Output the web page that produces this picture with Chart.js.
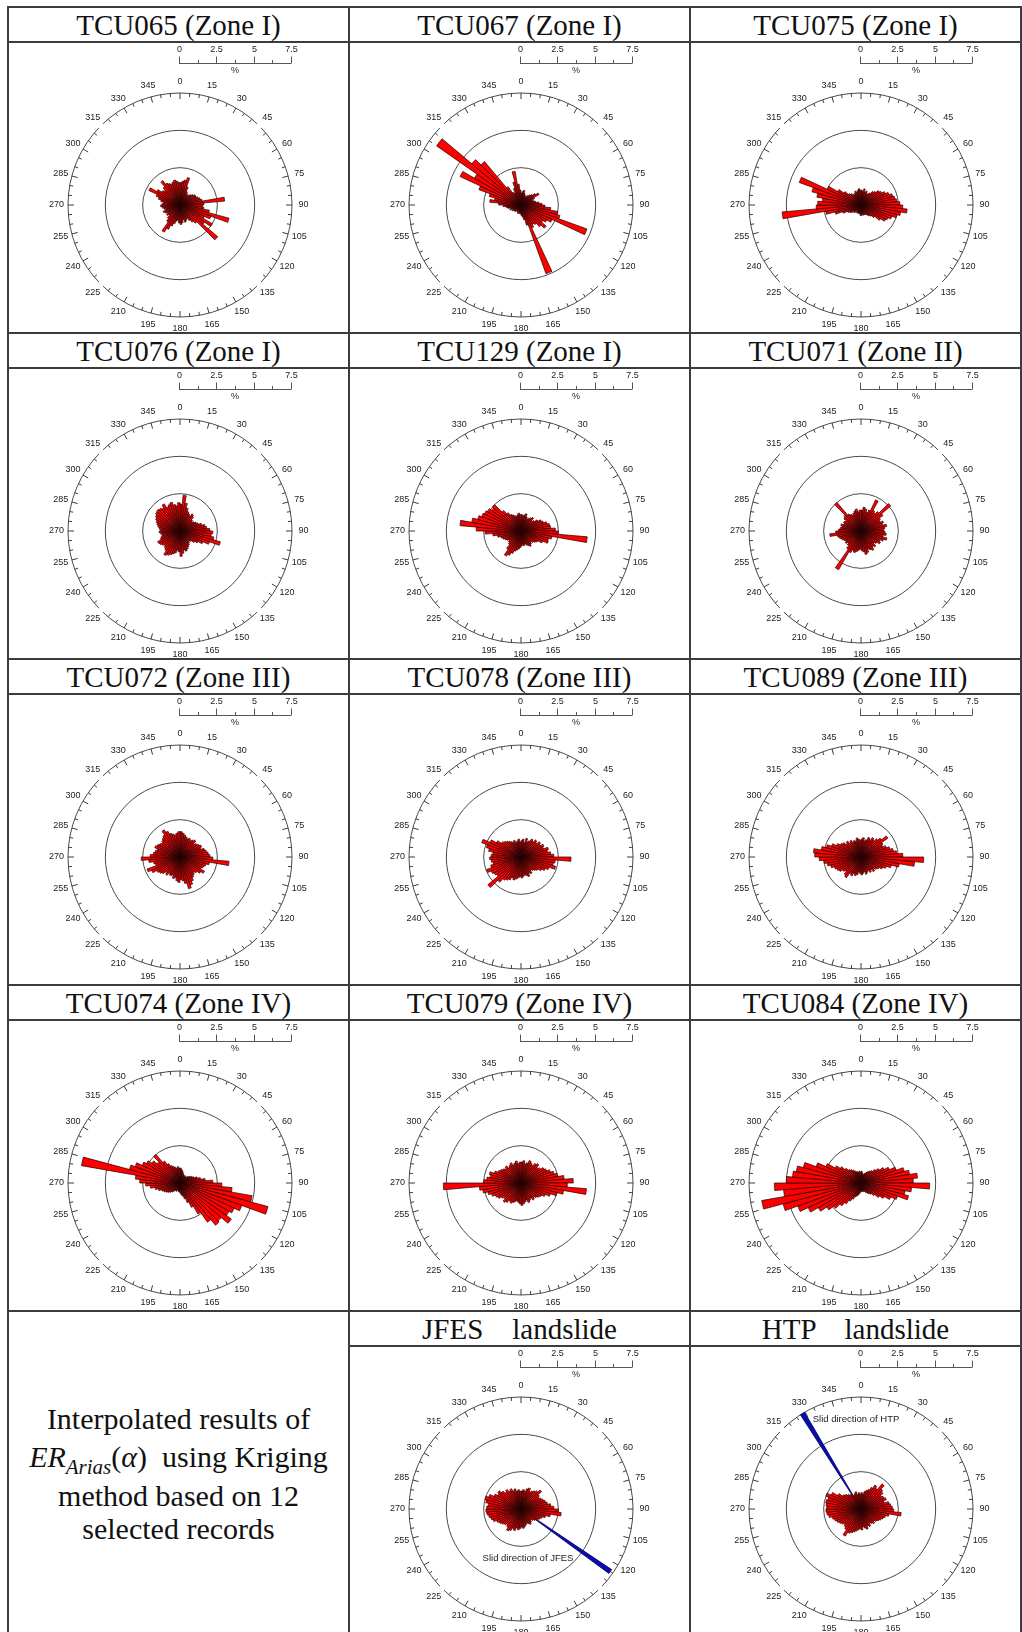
<!DOCTYPE html>
<html><head><meta charset="utf-8">
<script src="https://cdn.jsdelivr.net/npm/chart.js@4.4.0/dist/chart.umd.min.js"></script>
<style>
html,body{margin:0;padding:0;background:#fff;overflow:hidden;}
#page{position:relative;width:1022px;height:1632px;overflow:hidden;background:#fff;}
.ln{position:absolute;background:#3c3c3c;}
.title{position:absolute;font-family:"Liberation Serif","Times New Roman",serif;font-size:29px;color:#111;text-align:center;white-space:pre;line-height:35px;height:35px;}
.txt{position:absolute;left:8px;width:341px;text-align:center;font-family:"Liberation Serif","Times New Roman",serif;font-size:30px;color:#111;white-space:pre;line-height:34px;}
canvas{position:absolute;}
</style></head><body><div id="page"></div>
<script>
// ---------- data ----------
const binLabels = Array.from({length: 72}, (_, i) => String(i * 5));
const compassLabels = [0,15,30,45,60,75,90,105,120,135,150,165,180,195,210,225,240,255,270,285,300,315,330,345];
const barTicks = [0,1.25,2.5,3.75,5,6.25,7.5];
const barLabels = ['0','2.5','5','7.5'];
const rMax = 7.5;

const titles = ['TCU065 (Zone I)','TCU067 (Zone I)','TCU075 (Zone I)',
  'TCU076 (Zone I)','TCU129 (Zone I)','TCU071 (Zone II)',
  'TCU072 (Zone III)','TCU078 (Zone III)','TCU089 (Zone III)',
  'TCU074 (Zone IV)','TCU079 (Zone IV)','TCU084 (Zone IV)',
  '','JFES    landslide','HTP    landslide'];

const tcu065 = [1.5,1.6,1.7,1.9,1.3,1.0,0.9,0.8,0.9,1.0,1.1,1.2,
  1.2,1.3,1.4,1.5,3.0,1.6,1.5,1.6,2.0,3.4,2.2,1.8,
  2.5,2.0,3.3,1.6,1.4,1.2,1.0,1.1,1.2,1.0,1.2,1.3,
  1.2,1.0,1.1,1.3,1.5,1.8,2.1,1.4,1.2,1.0,1.1,1.0,
  1.1,1.2,1.0,1.1,1.2,1.3,1.2,1.1,1.3,1.5,1.7,2.3,
  1.8,1.5,1.4,1.6,2.0,1.7,1.6,1.5,1.6,1.7,1.6,1.5];
const tcu067 = [0.8,0.9,1.0,0.8,0.7,0.6,0.7,0.8,0.9,1.0,1.2,1.4,
  1.0,0.8,0.9,1.0,1.2,1.4,1.6,2.0,2.5,2.7,4.7,2.3,
  2.0,1.8,2.2,1.9,1.6,1.5,1.7,4.9,1.4,1.0,0.8,0.7,
  0.6,0.5,0.6,0.5,0.6,0.5,0.4,0.5,0.6,0.5,0.6,0.7,
  0.6,0.8,0.7,0.9,1.0,1.2,1.5,2.1,1.8,2.2,3.0,4.5,
  3.6,6.9,4.3,3.8,1.5,1.0,0.9,1.2,1.6,2.3,1.4,1.0];
const tcu075 = [1.0,0.9,1.1,0.9,1.0,0.8,0.9,1.0,1.2,1.3,1.5,1.6,
  1.8,2.0,2.2,2.3,2.4,2.6,2.8,3.1,2.7,2.5,2.2,2.0,
  1.9,1.6,1.2,1.0,0.9,0.8,0.7,0.7,0.6,0.7,0.6,0.7,
  0.7,0.6,0.5,0.6,0.5,0.6,0.5,0.6,0.7,0.6,0.8,0.9,
  1.0,1.3,1.8,2.4,5.3,3.0,2.9,2.6,3.0,3.4,4.4,2.5,
  1.8,1.4,1.1,1.0,0.9,0.8,0.9,1.0,0.9,1.0,1.1,1.0];
const tcu076 = [1.8,2.4,1.9,1.6,1.4,1.3,1.2,1.4,1.3,1.1,1.0,1.1,
  1.2,1.3,1.5,1.7,1.8,2.0,2.2,2.1,2.3,2.8,2.1,1.7,
  1.4,1.2,1.0,0.9,1.0,1.1,1.2,1.3,1.4,1.3,1.5,1.7,
  1.4,1.3,1.5,1.6,1.7,1.8,1.9,1.6,1.5,1.4,1.5,1.6,
  1.65,1.4,1.3,1.2,1.3,1.4,1.3,1.4,1.5,1.6,1.7,1.8,
  1.9,2.0,2.05,2.0,1.9,2.1,1.8,1.9,2.0,1.8,1.7,1.9];
const tcu129 = [1.1,1.0,1.1,1.2,1.0,0.9,1.0,1.1,1.2,1.0,1.1,1.3,
  1.5,1.6,1.8,1.95,2.0,2.3,2.5,4.45,2.1,1.9,1.95,1.6,
  1.3,1.2,1.1,1.0,1.1,1.2,1.1,1.0,0.9,1.0,0.9,1.0,
  1.1,1.2,1.3,1.4,1.6,1.8,1.95,1.5,1.2,1.1,1.0,1.1,
  1.2,1.3,1.4,1.6,1.9,2.4,3.0,4.1,3.35,3.0,2.8,2.7,
  2.6,2.4,2.5,1.8,1.5,1.3,1.2,1.1,1.0,1.1,1.2,1.1];
const tcu071 = [1.4,1.6,1.5,1.3,1.5,2.3,1.6,1.5,1.7,2.6,1.8,1.5,
  1.4,1.6,1.5,1.75,1.6,1.5,1.6,1.7,1.5,1.8,1.6,1.4,
  1.5,1.3,1.2,1.4,1.3,1.5,1.4,1.3,1.5,1.6,1.4,1.3,
  1.2,1.3,1.4,1.5,1.4,1.6,3.0,1.5,1.3,1.2,1.3,1.2,
  1.3,1.4,1.5,1.6,2.1,1.7,1.5,1.4,1.3,1.4,1.2,1.3,
  1.2,1.4,1.5,2.5,1.4,1.3,1.2,1.3,1.4,1.5,1.3,1.4];
const tcu072 = [1.7,1.6,1.5,1.4,1.3,1.4,1.3,1.4,1.5,1.3,1.4,1.5,
  1.6,1.5,1.7,1.8,1.9,2.0,2.2,3.3,2.0,1.8,1.7,1.6,
  1.9,1.7,1.5,1.4,1.5,1.6,1.8,2.0,2.2,1.8,1.6,1.5,
  1.7,1.6,1.4,1.5,1.3,1.4,1.3,1.5,1.4,1.6,1.7,1.8,
  2.1,2.35,1.7,1.8,2.1,2.6,2.0,1.8,1.7,1.6,1.8,1.7,
  1.6,1.5,1.6,1.7,1.8,2.1,1.9,1.7,1.6,1.5,1.6,1.7];
const tcu078 = [1.1,1.2,1.0,1.3,1.1,1.2,1.4,1.3,1.5,1.4,1.6,1.5,
  1.7,1.6,1.9,1.8,2.0,2.2,3.35,2.3,2.2,2.4,2.0,1.8,
  1.6,1.4,1.3,1.2,1.1,1.3,1.2,1.4,1.3,1.2,1.3,1.4,
  1.3,1.4,1.5,1.6,1.5,1.7,1.8,1.9,2.2,2.9,2.0,2.1,
  2.2,2.45,2.1,1.9,2.0,2.1,2.0,1.9,2.2,2.4,2.8,2.3,
  1.9,1.6,1.5,1.4,1.3,1.2,1.1,1.2,1.0,1.1,1.2,1.0];
const tcu089 = [1.2,1.3,1.1,1.2,1.4,1.3,1.5,1.4,1.6,1.8,2.2,1.7,
  1.6,1.8,2.0,2.2,2.4,2.8,4.2,3.6,2.6,2.1,1.8,1.6,
  1.4,1.3,1.2,1.3,1.1,1.2,1.0,1.1,1.2,1.0,1.1,1.2,
  1.1,1.0,1.2,1.3,1.2,1.4,1.3,1.7,1.6,1.4,1.5,1.7,
  1.8,1.9,2.1,2.3,2.5,2.8,3.1,3.2,2.7,2.4,2.1,1.8,
  1.6,1.5,1.3,1.4,1.2,1.3,1.1,1.2,1.1,1.3,1.2,1.1];
const tcu074 = [1.0,0.9,0.8,0.7,0.6,0.6,0.5,0.6,0.5,0.6,0.7,0.8,
  0.9,1.0,1.2,1.4,1.7,2.2,2.8,3.5,4.9,6.1,4.4,4.0,
  3.8,4.2,3.6,3.7,3.2,2.4,1.8,1.4,1.1,0.9,0.8,0.7,
  0.6,0.6,0.5,0.5,0.6,0.5,0.6,0.7,0.8,0.9,1.0,1.1,
  1.2,1.3,1.5,1.7,2.0,2.3,2.7,3.0,6.7,3.5,3.2,2.8,
  2.6,2.3,2.0,2.5,1.8,1.5,1.3,1.2,1.1,1.0,1.1,1.0];
const tcu079 = [1.4,1.5,1.3,1.4,1.6,1.5,1.4,1.6,1.7,1.5,1.6,1.8,
  1.9,2.1,2.3,2.5,2.9,3.5,3.1,4.4,2.9,2.5,2.1,1.8,
  1.6,1.5,1.4,1.3,1.4,1.2,1.3,1.4,1.2,1.3,1.4,1.5,
  1.4,1.3,1.2,1.3,1.4,1.5,1.4,1.6,1.7,1.5,1.6,1.8,
  1.9,2.1,2.3,2.6,2.8,5.2,2.5,2.3,2.1,2.2,1.9,1.7,
  1.6,1.5,1.4,1.5,1.3,1.4,1.5,1.3,1.4,1.5,1.3,1.4];
const tcu084 = [0.8,0.7,0.6,0.6,0.7,0.8,0.9,1.0,1.1,1.3,1.5,1.8,
  2.1,2.5,3.0,3.3,3.8,3.5,4.6,3.4,3.0,3.3,2.6,2.2,
  1.8,1.5,1.2,1.0,0.9,0.8,0.7,0.6,0.6,0.5,0.6,0.5,
  0.6,0.7,0.8,0.9,1.0,1.2,1.4,1.7,2.0,2.4,2.8,3.3,
  3.9,4.5,5.4,6.75,5.2,5.8,5.0,4.6,4.4,4.0,3.2,2.6,
  2.0,1.7,1.4,1.2,1.1,1.0,0.9,0.8,0.8,0.7,0.8,0.7];
const jfes = [1.2,1.3,1.2,1.4,1.5,1.3,1.4,1.5,1.6,1.8,1.5,1.4,
  1.5,1.6,1.7,1.8,2.0,2.2,2.5,2.7,2.0,1.7,1.5,1.4,
  1.3,1.2,1.1,1.0,1.1,1.2,1.1,1.0,1.1,1.2,1.3,1.2,
  1.3,1.4,1.3,1.5,1.4,1.6,1.7,1.5,1.4,1.5,1.6,1.7,
  1.8,2.0,2.1,2.2,2.3,2.35,2.3,2.2,2.4,2.5,2.3,2.0,
  1.8,1.9,1.7,1.5,1.6,1.4,1.5,1.3,1.4,1.2,1.3,1.2];
const htp = [1.1,1.0,1.2,1.3,1.4,1.6,1.85,1.7,2.2,1.9,1.8,1.6,
  1.7,1.8,1.6,1.9,2.0,2.1,2.2,2.7,1.9,1.7,1.6,1.5,
  1.4,1.3,1.2,1.3,1.2,1.1,1.3,1.2,1.4,1.3,1.2,1.4,
  1.3,1.4,1.5,1.6,1.7,1.8,2.1,1.7,1.6,1.5,1.6,1.7,
  1.8,1.9,2.0,2.2,2.3,2.35,2.3,2.35,2.4,2.3,2.5,2.2,
  1.8,1.5,1.4,1.3,1.2,1.1,1.0,1.1,1.2,1.0,1.1,1.0];

// slide directions (degrees, clockwise from north) and lengths (%)
const slideJFES = {dir: 125, len: 7.3, note: 'Slid direction of JFES', dx: 7, dy: 49};
const slideHTP = {dir: 328.5, len: 7.5, note: 'Slid direction of HTP', dx: -5, dy: -90};
const slideWidth = 2.5;

const cells = [tcu065, tcu067, tcu075, tcu076, tcu129, tcu071, tcu072, tcu078, tcu089, tcu074, tcu079, tcu084, null, jfes, htp];
const slides = {13: slideJFES, 14: slideHTP};

// ---------- layout ----------
const colLeft = [8, 349, 690], colRight = [349, 690, 1021];
const rowTop = [7, 333, 659, 985, 1311];
const titleH = 35;
const centerX = [180, 521, 861];
const centerDY = 198;
const ringGaps = [45, 135, 225, 315];

const page = document.getElementById('page');
function line(x, y, w, h) {
  const d = document.createElement('div'); d.className = 'ln';
  d.style.left = x + 'px'; d.style.top = y + 'px'; d.style.width = w + 'px'; d.style.height = h + 'px';
  page.appendChild(d);
}
rowTop.forEach((t, k) => {
  line(8, t - 1, 1014, 2);
  if (k < 4) line(8, t + titleH - 1, 1014, 2);
  else line(349, t + titleH - 1, 673, 2);
});
[8, 349, 690, 1021].forEach(x => line(x - 1, 6, 2, 1626));

titles.forEach((t, i) => {
  if (!t) return;
  const r = Math.floor(i / 3), c = i % 3;
  const d = document.createElement('div'); d.className = 'title';
  d.style.left = colLeft[c] + 'px'; d.style.width = (colRight[c] - colLeft[c]) + 'px';
  d.style.top = (rowTop[r] + 1) + 'px';
  d.textContent = t; page.appendChild(d);
});

const blockLines = [
  {top: 1402, html: 'Interpolated results of'},
  {top: 1440, html: '<i>ER</i><sub style="font-size:21px;vertical-align:-7px"><i>Arias</i></sub>(<i>α</i>)  using Kriging'},
  {top: 1479, html: 'method based on 12'},
  {top: 1512, html: 'selected records'}];
blockLines.forEach(l => {
  const d = document.createElement('div'); d.className = 'txt';
  d.style.top = l.top + 'px'; d.innerHTML = l.html; page.appendChild(d);
});

// ---------- decoration plugin ----------
const roseDecor = {
  id: 'roseDecor',
  afterDraw(chart, args, opts) {
    const s = chart.scales.r, ctx = chart.ctx;
    const cx = s.xCenter, cy = s.yCenter;
    const R = s.getDistanceFromCenterForValue(rMax);
    const rad = d => (d - 90) * Math.PI / 180;
    ctx.save();
    ctx.strokeStyle = '#ffffff'; ctx.lineWidth = 3;
    ringGaps.forEach(a => { ctx.beginPath(); ctx.arc(cx, cy, R, rad(a - 1.5), rad(a + 1.5)); ctx.stroke(); });
    ctx.strokeStyle = '#3a3a3a'; ctx.lineWidth = 1;
    for (let a = 0; a < 360; a += 5) {
      if (ringGaps.includes(a)) continue;
      const len = a % 15 === 0 ? 6 : 3.5, t = rad(a);
      ctx.beginPath();
      ctx.moveTo(cx + Math.cos(t) * R, cy + Math.sin(t) * R);
      ctx.lineTo(cx + Math.cos(t) * (R - len), cy + Math.sin(t) * (R - len));
      ctx.stroke();
    }
    ctx.fillStyle = '#222';
    ctx.font = '9px "Liberation Sans", Arial, sans-serif';
    ctx.textAlign = 'center'; ctx.textBaseline = 'middle';
    compassLabels.forEach(a => {
      const t = rad(a);
      ctx.fillText(String(a), cx + Math.cos(t) * (R + 11.5), cy + Math.sin(t) * (R + 11.5));
    });
    const y0 = Math.round(cy - 142) + 0.5, x0 = cx - 1;
    ctx.strokeStyle = '#555';
    ctx.beginPath(); ctx.moveTo(x0, y0); ctx.lineTo(x0 + R, y0); ctx.stroke();
    barTicks.forEach((v, i) => {
      const x = Math.round(x0 + s.getDistanceFromCenterForValue(v)) + 0.5;
      const h = i % 2 === 0 ? 7 : 3.5;
      ctx.beginPath(); ctx.moveTo(x, y0); ctx.lineTo(x, y0 - h); ctx.stroke();
      if (i % 2 === 0) ctx.fillText(barLabels[i / 2], x, y0 - 14);
    });
    ctx.fillText('%', x0 + s.getDistanceFromCenterForValue(3.75), y0 + 7);
    if (opts && opts.note) {
      ctx.font = '9.5px "Liberation Sans", Arial, sans-serif';
      ctx.fillText(opts.note, cx + opts.dx, cy + opts.dy);
    }
    ctx.restore();
  }
};

// ---------- charts ----------
const CW = 340, CH = 330;
cells.forEach((vals, i) => {
  if (!vals) return;
  const r = Math.floor(i / 3), c = i % 3;
  const cx = centerX[c], cy = rowTop[r] + centerDY;
  const cv = document.createElement('canvas');
  cv.width = CW; cv.height = CH;
  cv.style.width = CW + 'px'; cv.style.height = CH + 'px';
  cv.style.left = (cx - CW / 2) + 'px'; cv.style.top = (cy - CH / 2) + 'px';
  page.appendChild(cv);
  const datasets = [{
    data: vals,
    backgroundColor: '#ff0000',
    borderColor: '#200000',
    borderWidth: 0.7
  }];
  const sl = slides[i];
  if (sl) {
    datasets.push({
      data: [0, sl.len, 0],
      angle: [sl.dir - slideWidth / 2, slideWidth, 360 - sl.dir - slideWidth / 2],
      backgroundColor: ['rgba(0,0,0,0)', '#0b0bb0', 'rgba(0,0,0,0)'],
      borderColor: ['rgba(0,0,0,0)', '#000060', 'rgba(0,0,0,0)'],
      borderWidth: [0, 0.8, 0]
    });
  }
  new Chart(cv, {
    type: 'polarArea',
    data: {labels: binLabels, datasets},
    options: {
      responsive: false, animation: false, events: [],
      layout: {padding: {left: (CW - 224) / 2, right: (CW - 224) / 2, top: (CH - 224) / 2, bottom: (CH - 224) / 2}},
      plugins: {legend: {display: false}, tooltip: {enabled: false},
        roseDecor: sl ? {note: sl.note, dx: sl.dx, dy: sl.dy} : {}},
      scales: {r: {
        min: 0, max: rMax, startAngle: 0,
        ticks: {display: false, stepSize: 2.5},
        grid: {circular: true, color: '#4a4a4a', lineWidth: 1},
        angleLines: {display: false},
        pointLabels: {display: false}
      }}
    },
    plugins: [roseDecor]
  });
});
</script></body></html>
